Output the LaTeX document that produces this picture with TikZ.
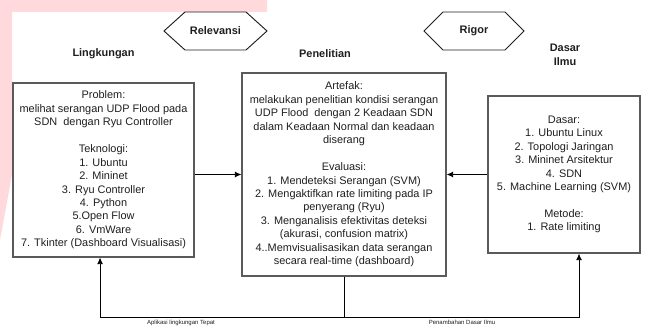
\documentclass[tikz,border=0pt]{standalone}
\usepackage{fontspec}
\setmainfont{Liberation Sans}
\usetikzlibrary{arrows.meta}
\definecolor{boxgray}{HTML}{5A5A5A}
\definecolor{pinkbg}{HTML}{FFD9DB}
\definecolor{txt}{HTML}{1E1E1E}
\tikzset{
  box/.style={draw=boxgray, line width=0.8pt, align=center, text=txt,
    font=\fontsize{8.2}{10.1}\selectfont, inner sep=0pt},
  judul/.style={align=center, text=txt, font=\fontsize{8.2}{10.3}\selectfont\bfseries},
  kecil/.style={text=txt, font=\fontsize{4.5}{5}\selectfont, inner sep=0pt},
  panah/.style={-{Latex[length=5pt,width=4.5pt]}, line width=0.7pt}
}
\begin{document}
\begin{tikzpicture}[x=0.75pt, y=-0.75pt]
        \useasboundingbox (0,0) rectangle (649,327);
        \fill[pinkbg] (0,0) -- (267,0) -- (267,12) -- (12,12) -- (12,175) -- (0,240) -- cycle;
        % segi enam
        \node[judul] (rel) at (215.5,31) {Relevansi};
        \draw[line width=0.7pt, txt] (164,31) -- (185,12) -- (246,12) -- (267,31) -- (246,50) -- (185,50) -- cycle;
        \node[judul] (rig) at (474,31) {Rigor};
        \draw[line width=0.7pt, txt] (424,31) -- (443,12) -- (505,12) -- (524,31) -- (505,50) -- (443,50) -- cycle;
        % judul kolom
        \node[judul] (tl) at (103.5,54) {Lingkungan};
        \node[judul] (tp) at (325,54) {Penelitian};
        \node[judul] (td) at (565,55) {Dasar\\Ilmu};
        % kotak
        \node[box, minimum width=135.75pt, minimum height=130.5pt] (lb) at (103.5,170) {Problem:\\
          melihat serangan UDP Flood pada\\ SDN\ \ dengan Ryu Controller\\[10.1pt]
          Teknologi:\\ 1. Ubuntu\\ 2. Mininet\\ 3. Ryu Controller\\ 4. Python\\
          5.Open Flow\\ 6. VmWare\\ 7. Tkinter (Dashboard Visualisasi)};
        \node[box, minimum width=153pt, minimum height=152.25pt] (cb) at (344,174.5) {Artefak:\\
          melakukan penelitian kondisi serangan\\ UDP Flood\ \ dengan 2 Keadaan SDN\\
          dalam Keadaan Normal dan keadaan\\ diserang\\[10.1pt]
          Evaluasi:\\ 1. Mendeteksi Serangan (SVM)\\ 2. Mengaktifkan rate limiting pada IP\\
          penyerang (Ryu)\\ 3. Menganalisis efektivitas deteksi\\ (akurasi, confusion matrix)\\
          4..Memvisualisasikan data serangan\\ secara real-time (dashboard)};
        \node[box, minimum width=114pt, minimum height=117.75pt] (rb) at (564,174.5) {Dasar:\\
          1. Ubuntu Linux\\ 2. Topologi Jaringan\\ 3. Mininet Arsitektur\\ 4. SDN\\
          5. Machine Learning (SVM)\\[10.1pt] Metode:\\ 1. Rate limiting};
        % panah
        \draw[panah] (lb.east |- cb.west) -- (cb.west);
        \draw[panah] (rb.west) -- (cb.east);
        \draw[panah] (cb.south) -- ++(0,41) -| ([xshift=-2.6pt]lb.south);
        \draw[panah] (cb.south) -- ++(0,41) -| ([xshift=11.25pt]rb.south);
        \node[kecil] (la) at (181,322.5) {Aplikasi lingkungan Tepat};
        \node[kecil] (lp) at (462,322.5) {Penambahan Dasar Ilmu};
    \end{tikzpicture}
\end{document}
